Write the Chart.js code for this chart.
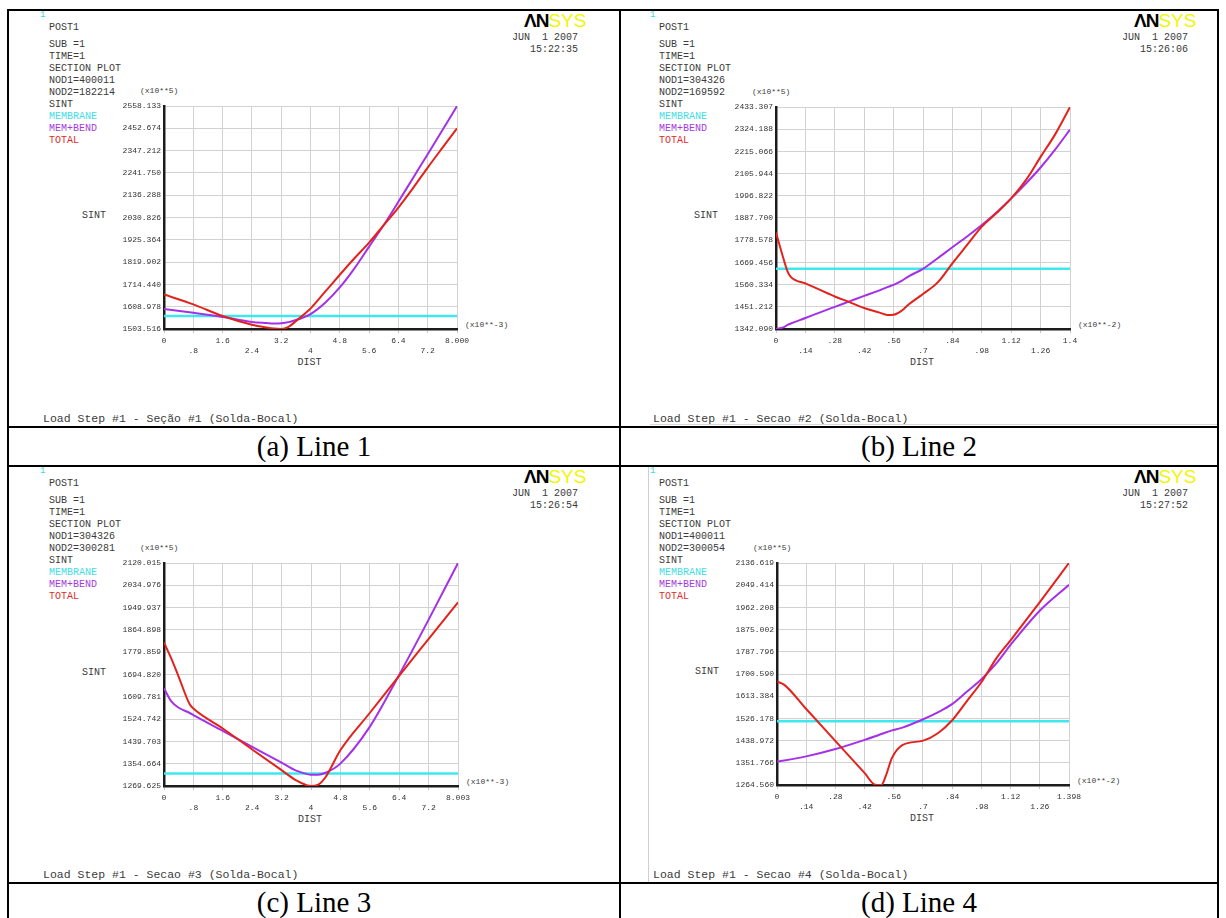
<!DOCTYPE html>
<html>
<head>
<meta charset="utf-8">
<script src="https://cdn.jsdelivr.net/npm/chart.js@4.4.1/dist/chart.umd.min.js"></script>
<style>
  body { margin: 0; background: #fff; }
  #page { position: relative; width: 1226px; height: 918px; overflow: hidden; background: #fff; }
  .t { position: absolute; white-space: pre; font-family: "Liberation Mono", "DejaVu Sans Mono", monospace; font-size: 10px; line-height: 12px; color: #3a3a3a; }
  .ln { position: absolute; background: #000; }
  .cap { position: absolute; text-align: center; font-family: "Liberation Serif", "Times New Roman", serif; font-size: 29px; color: #000; }
  canvas { position: absolute; }
</style>
</head>
<body>
<div id="page"></div>
<script>
// ---- data ----

// (a) Line 1, DIST in x10**-3
const p1X        = [0, 0.8, 1.6, 2.4, 2.8, 3.0, 3.2, 3.4, 3.6, 3.8, 4.0, 4.4, 4.8, 5.2, 5.6, 6.0, 6.4, 6.8, 7.2, 7.6, 8.0];
const p1MemBend  = [1598, 1580, 1560, 1537, 1532, 1530, 1531, 1536, 1546, 1558, 1574, 1628, 1700, 1790, 1893, 1995, 2105, 2218, 2330, 2443, 2558];
const p1Total    = [1667, 1620, 1565, 1524, 1511, 1506, 1504, 1514, 1540, 1570, 1600, 1680, 1760, 1838, 1912, 1995, 2078, 2170, 2267, 2360, 2452];
const p1Membrane = 1565;
const p1XLabels  = ['0', '.8', '1.6', '2.4', '3.2', '4', '4.8', '5.6', '6.4', '7.2', '8.000'];
const p1YLabels  = ['2558.133', '2452.674', '2347.212', '2241.750', '2136.288', '2030.826', '1925.364', '1819.902', '1714.440', '1608.978', '1503.516'];

// (b) Line 2, DIST in x10**-2
const p2X        = [0, 0.035, 0.055, 0.07, 0.14, 0.21, 0.28, 0.35, 0.42, 0.49, 0.53, 0.56, 0.6, 0.63, 0.7, 0.77, 0.84, 0.91, 0.98, 1.05, 1.12, 1.19, 1.26, 1.33, 1.4];
const p2MemBend  = [1342, 1350, 1362, 1369, 1396, 1424, 1451, 1478, 1505, 1531, 1548, 1559, 1580, 1600, 1638, 1690, 1744, 1797, 1853, 1915, 1984, 2057, 2136, 2225, 2322];
const p2Total    = [1816, 1690, 1625, 1598, 1566, 1534, 1502, 1474, 1445, 1424, 1411, 1412, 1433, 1461, 1514, 1571, 1665, 1755, 1845, 1912, 1984, 2074, 2188, 2300, 2433];
const p2Membrane = 1638;
const p2XLabels  = ['0', '.14', '.28', '.42', '.56', '.7', '.84', '.98', '1.12', '1.26', '1.4'];
const p2YLabels  = ['2433.307', '2324.188', '2215.066', '2105.944', '1996.822', '1887.700', '1778.578', '1669.456', '1560.334', '1451.212', '1342.090'];

// (c) Line 3, DIST in x10**-3
const p3X        = [0, 0.2, 0.4, 0.7, 0.8, 1.6, 2.4, 3.2, 3.6, 3.9, 4.0, 4.2, 4.4, 4.8, 5.6, 6.4, 7.2, 8.003];
const p3MemBend  = [1642, 1592, 1568, 1548, 1540, 1480, 1419, 1359, 1328, 1315, 1313, 1313, 1320, 1355, 1495, 1693, 1903, 2120];
const p3Total    = [1817, 1755, 1686, 1581, 1565, 1489, 1409, 1330, 1291, 1272, 1270, 1275, 1304, 1406, 1548, 1690, 1830, 1970];
const p3Membrane = 1317;
const p3XLabels  = ['0', '.8', '1.6', '2.4', '3.2', '4', '4.8', '5.6', '6.4', '7.2', '8.003'];
const p3YLabels  = ['2120.015', '2034.976', '1949.937', '1864.898', '1779.859', '1694.820', '1609.781', '1524.742', '1439.703', '1354.664', '1269.625'];

// (d) Line 4, DIST in x10**-2
const p4X        = [0, 0.035, 0.14, 0.28, 0.42, 0.47, 0.5, 0.52, 0.55, 0.6, 0.7, 0.77, 0.84, 0.91, 0.98, 1.05, 1.12, 1.26, 1.398];
const p4MemBend  = [1357, 1361, 1377, 1406, 1442, 1456, 1465, 1471, 1479, 1490, 1523, 1550, 1583, 1632, 1681, 1742, 1817, 1951, 2051];
const p4Total    = [1671, 1658, 1563, 1437, 1311, 1266, 1265, 1298, 1370, 1421, 1439, 1468, 1520, 1595, 1670, 1762, 1835, 1985, 2137];
const p4Membrane = 1515;
const p4XLabels  = ['0', '.14', '.28', '.42', '.56', '.7', '.84', '.98', '1.12', '1.26', '1.398'];
const p4YLabels  = ['2136.619', '2049.414', '1962.208', '1875.002', '1787.796', '1700.590', '1613.384', '1526.178', '1438.972', '1351.766', '1264.560'];

const captions = ['(a) Line 1', '(b) Line 2', '(c) Line 3', '(d) Line 4'];
const nod1 = ['400011', '304326', '304326', '400011'];
const nod2 = ['182214', '169592', '300281', '300054'];
const times = ['15:22:35', '15:26:06', '15:26:54', '15:27:52'];
const xMult = ['(x10**-3)', '(x10**-2)', '(x10**-3)', '(x10**-2)'];
const footers = [
  'Load Step #1 - Seção #1 (Solda-Bocal)',
  'Load Step #1 - Secao #2 (Solda-Bocal)',
  'Load Step #1 - Secao #3 (Solda-Bocal)',
  'Load Step #1 - Secao #4 (Solda-Bocal)'
];

const page = document.getElementById('page');
const MONO = '"Liberation Mono", "DejaVu Sans Mono", monospace';

function text(x, yc, str, extra) {
  const d = document.createElement('div');
  d.className = 't';
  d.textContent = str;
  d.style.left = x + 'px';
  d.style.top = (yc - 6) + 'px';
  if (extra) Object.assign(d.style, extra);
  page.appendChild(d);
  return d;
}

function line(x, y, w, h, color) {
  const d = document.createElement('div');
  d.className = 'ln';
  Object.assign(d.style, { left: x + 'px', top: y + 'px', width: w + 'px', height: h + 'px' });
  if (color) d.style.background = color;
  page.appendChild(d);
}

// table borders
line(7, 9, 1212, 2);
line(7, 426, 1212, 2);
line(7, 465, 1212, 2);
line(7, 882, 1212, 2);
line(7, 920, 1212, 2);
line(7, 9, 2, 913);
line(619, 9, 2, 913);
line(1217, 9, 2, 913);
// faint image edges inside the right-hand cells
line(648, 467, 1, 415, '#d0d0d0');
line(650, 424, 567, 1, '#d8d8d8');

// captions
[[8, 427], [620, 427], [8, 883], [620, 883]].forEach((c, i) => {
  const d = document.createElement('div');
  d.className = 'cap';
  Object.assign(d.style, { left: c[0] + 'px', top: c[1] + 'px', width: (c[0] === 8 ? 612 : 598) + 'px', height: '39px', lineHeight: '39px' });
  d.textContent = captions[i];
  page.appendChild(d);
});

function panelText(i, ox, oy, box) {
  text(ox + 40, oy + 15, '1', { color: '#3fd9d9', fontSize: '9px' });
  text(ox + 49, oy + 28, 'POST1');
  const rows = ['SUB =1', 'TIME=1', 'SECTION PLOT', 'NOD1=' + nod1[i], 'NOD2=' + nod2[i], 'SINT'];
  rows.forEach((r, k) => text(ox + 49, oy + 44.5 + k * 12.1, r));
  text(ox + 49, oy + 44.5 + 6 * 12.1, 'MEMBRANE', { color: '#3fe0e6' });
  text(ox + 49, oy + 44.5 + 7 * 12.1, 'MEM+BEND', { color: '#a53ae0' });
  text(ox + 49, oy + 44.5 + 8 * 12.1, 'TOTAL', { color: '#e02a2a' });

  // logo and date
  const logo = document.createElement('div');
  logo.innerHTML = '<span style="font-weight:bold;color:#000;letter-spacing:-1px">ΛN</span><span style="color:#f4f400">SYS</span>';
  Object.assign(logo.style, { position: 'absolute', left: (ox + 524) + 'px', top: (oy + 11) + 'px', fontFamily: '"Liberation Sans", Arial, sans-serif', fontSize: '19px', lineHeight: '19px' });
  page.appendChild(logo);
  text(ox + 512, oy + 38, 'JUN  1 2007', { width: '66px', textAlign: 'right' });
  text(ox + 512, oy + 50, times[i], { width: '66px', textAlign: 'right' });

  // axis captions
  text(box.x0 - 24, box.y0 - 15, '(x10**5)', { fontSize: '8px' });
  text(box.x0 - 82, (box.y0 + box.y1) / 2 - 2, 'SINT');
  text((box.x0 + box.x1) / 2 - 13, box.y1 + 34, 'DIST');
  text(box.x1 + 8, box.y1 - 4, xMult[i], { fontSize: '8px' });
  text(ox + 43, oy + 419, footers[i], { fontSize: '11.5px' });
}

function plot(box, xs, memBend, total, membrane, xLabels, yLabels) {
  const padL = 60, padT = 15, padR = 40, padB = 40;
  const cv = document.createElement('canvas');
  const w = box.x1 - box.x0 + padL + padR;
  const h = box.y1 - box.y0 + padT + padB;
  cv.width = w; cv.height = h;
  cv.style.left = (box.x0 - padL) + 'px';
  cv.style.top = (box.y0 - padT) + 'px';
  page.appendChild(cv);

  const xMax = xs[xs.length - 1];
  const yMin = parseFloat(yLabels[yLabels.length - 1]);
  const yMax = parseFloat(yLabels[0]);
  const tickFont = { family: MONO, size: 8, lineHeight: 1.35 };

  new Chart(cv.getContext('2d'), {
    type: 'line',
    data: {
      datasets: [
        { label: 'TOTAL', data: xs.map((x, k) => ({ x: x, y: total[k] })), borderColor: '#e3221c', borderWidth: 2, pointRadius: 0, cubicInterpolationMode: 'monotone' },
        { label: 'MEM+BEND', data: xs.map((x, k) => ({ x: x, y: memBend[k] })), borderColor: '#a431e8', borderWidth: 2, pointRadius: 0, cubicInterpolationMode: 'monotone' },
        { label: 'MEMBRANE', data: [{ x: 0, y: membrane }, { x: xMax, y: membrane }], borderColor: '#3ee8ee', borderWidth: 2.5, pointRadius: 0 }
      ]
    },
    options: {
      responsive: false,
      animation: false,
      devicePixelRatio: 1,
      layout: { padding: { left: 0, top: padT, right: padR, bottom: 0 } },
      plugins: { legend: { display: false }, tooltip: { enabled: false } },
      scales: {
        x: {
          type: 'linear', min: 0, max: xMax,
          ticks: {
            count: 11, autoSkip: false, maxRotation: 0, padding: 2, color: '#333', font: tickFont,
            callback: (v, k) => (k % 2 ? ['', xLabels[k]] : xLabels[k])
          },
          grid: { color: '#d2d2d2', lineWidth: 1, tickLength: 4, tickColor: '#c4c4c4' },
          border: { color: '#1c1c1c', width: 2.5 },
          afterFit: s => { s.height = padB; }
        },
        y: {
          type: 'linear', min: yMin, max: yMax,
          ticks: {
            count: 11, padding: 3, color: '#333', font: tickFont,
            callback: (v, k) => yLabels[yLabels.length - 1 - k]
          },
          grid: { color: '#d2d2d2', lineWidth: 1, drawTicks: false },
          border: { color: '#1c1c1c', width: 2.5 },
          afterFit: s => { s.width = padL; }
        }
      }
    }
  });
}

const boxes = [
  { x0: 164, x1: 457, y0: 106, y1: 329 },
  { x0: 776, x1: 1070, y0: 107, y1: 329 },
  { x0: 164, x1: 458, y0: 563, y1: 786 },
  { x0: 777, x1: 1069, y0: 563, y1: 785 }
];
const offsets = [[0, 0], [610, 0], [0, 456], [610, 456]];

offsets.forEach((o, i) => panelText(i, o[0], o[1], boxes[i]));

plot(boxes[0], p1X, p1MemBend, p1Total, p1Membrane, p1XLabels, p1YLabels);
plot(boxes[1], p2X, p2MemBend, p2Total, p2Membrane, p2XLabels, p2YLabels);
plot(boxes[2], p3X, p3MemBend, p3Total, p3Membrane, p3XLabels, p3YLabels);
plot(boxes[3], p4X, p4MemBend, p4Total, p4Membrane, p4XLabels, p4YLabels);
</script>
</body>
</html>
